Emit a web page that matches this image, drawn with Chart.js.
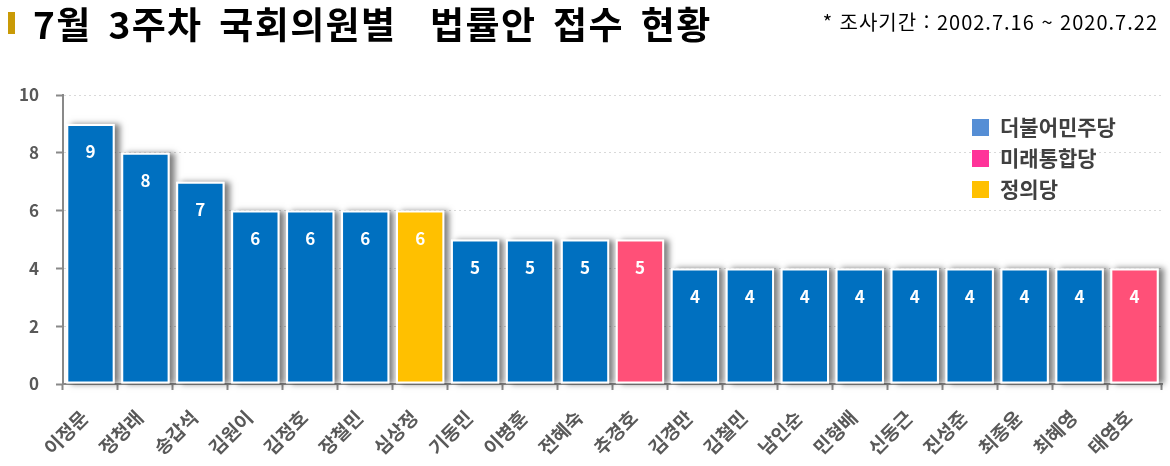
<!DOCTYPE html>
<html lang="ko">
<head>
<meta charset="UTF-8">
<title>7월 3주차 국회의원별 법률안 접수 현황</title>
<style>
    html, body { margin: 0; padding: 0; background: #fff; }
    body { width: 1170px; height: 466px; position: relative; overflow: hidden; font-family: "Noto Sans CJK KR", "Noto Sans", sans-serif; }
    .mark { position: absolute; left: 8px; top: 12px; width: 7px; height: 22px; background: #C99A06; }
    .title { position: absolute; left: 33px; top: -4px; font-size: 37px; font-weight: bold; color: #000; white-space: pre; letter-spacing: 1.4px; word-spacing: 5px; }
    .period { position: absolute; right: 12px; top: 7px; font-size: 20px; color: #000; white-space: pre; letter-spacing: 1px; }
    #chart { position: absolute; left: 0; top: 0; }
</style>
</head>
<body>
<canvas id="chart" width="1170" height="466"></canvas>
<div class="mark"></div>
<div class="title">7월 3주차 국회의원별  법률안 접수 현황</div>
<div class="period">* 조사기간 : 2002.7.16 ~ 2020.7.22</div>
<script src="https://cdn.jsdelivr.net/npm/chart.js"></script>
<script>
    const names = ['이정문', '정청래', '송갑석', '김원이', '김정호', '장철민', '심상정', '기동민', '이병훈', '전혜숙',
                   '추경호', '김경만', '김철민', '남인순', '민형배', '신동근', '진성준', '최종윤', '최혜영', '태영호'];
    const counts = [9, 8, 7, 6, 6, 6, 6, 5, 5, 5, 5, 4, 4, 4, 4, 4, 4, 4, 4, 4];
    const parties = ['민주', '민주', '민주', '민주', '민주', '민주', '정의', '민주', '민주', '민주',
                     '통합', '민주', '민주', '민주', '민주', '민주', '민주', '민주', '민주', '통합'];
    const yTicks = [0, 2, 4, 6, 8, 10];

    const barColors = { '민주': '#0070C0', '통합': '#FF5078', '정의': '#FFC000' };
    const legendNames = ['더불어민주당', '미래통합당', '정의당'];
    const legendColors = ['#558ED5', '#FF3399', '#FFC000'];

    const font = '"Noto Sans CJK KR", "Noto Sans", sans-serif';

    // shadow behind each bar, drawn from the bar elements
    const barShadow = {
        id: 'barShadow',
        beforeDatasetsDraw(chart) {
            const ctx = chart.ctx;
            chart.getDatasetMeta(0).data.forEach(bar => {
                ctx.save();
                ctx.shadowColor = 'rgba(0,0,0,0.5)';
                ctx.shadowBlur = 6;
                ctx.shadowOffsetX = 5;
                ctx.shadowOffsetY = 0;
                ctx.fillStyle = '#ffffff';
                ctx.fillRect(bar.x - bar.width / 2, bar.y, bar.width, bar.base - bar.y);
                ctx.restore();
            });
        },
        afterDatasetsDraw(chart) {
            const ctx = chart.ctx;
            ctx.save();
            ctx.fillStyle = '#ffffff';
            ctx.font = 'bold 17px ' + font;
            ctx.textAlign = 'center';
            ctx.textBaseline = 'middle';
            chart.getDatasetMeta(0).data.forEach((bar, i) => {
                ctx.fillText(String(counts[i]), bar.x, bar.y + 28);
            });
            ctx.restore();
        }
    };

    const partyLegend = {
        id: 'partyLegend',
        afterDraw(chart) {
            const ctx = chart.ctx;
            const area = chart.chartArea;
            ctx.save();
            ctx.font = 'bold 21px ' + font;
            ctx.textBaseline = 'middle';
            ctx.textAlign = 'left';
            legendNames.forEach((name, i) => {
                const cy = area.top + 32 + i * 31;
                ctx.fillStyle = legendColors[i];
                ctx.fillRect(area.right - 190, cy - 8, 17, 17);
                ctx.fillStyle = '#404040';
                ctx.fillText(name, area.right - 162, cy);
            });
            ctx.restore();
        }
    };

    new Chart(document.getElementById('chart'), {
        type: 'bar',
        data: {
            labels: names,
            datasets: [{
                data: counts,
                backgroundColor: parties.map(p => barColors[p]),
                borderColor: '#ffffff',
                borderWidth: 2,
                borderSkipped: false,
                barPercentage: 0.88,
                categoryPercentage: 1
            }]
        },
        options: {
            responsive: false,
            animation: false,
            layout: { padding: { top: 95, right: 8, left: 0, bottom: 0 } },
            plugins: {
                legend: { display: false },
                tooltip: { enabled: false }
            },
            scales: {
                x: {
                    afterFit(scale) { scale.height = 82; },
                    grid: { display: true, drawOnChartArea: false, offset: true, tickLength: 6, tickColor: '#898989', tickWidth: 2 },
                    border: { color: '#898989', width: 2 },
                    ticks: {
                        autoSkip: false,
                        maxRotation: 45,
                        minRotation: 45,
                        labelOffset: -6,
                        padding: 16,
                        color: '#595959',
                        font: { family: font, size: 19, weight: 'bold' }
                    }
                },
                y: {
                    min: 0,
                    max: 10,
                    afterFit(scale) { scale.width = 63; },
                    afterBuildTicks(scale) { scale.ticks = yTicks.map(v => ({ value: v })); },
                    grid: { color: '#D9D9D9', lineWidth: 1, tickLength: 7, tickColor: '#898989', tickWidth: 2 },
                    border: { color: '#898989', width: 2, dash: [2, 3] },
                    ticks: {
                        padding: 17,
                        color: '#595959',
                        font: { family: font, size: 17, weight: 'bold' }
                    }
                }
            }
        },
        plugins: [barShadow, partyLegend]
    });
</script>
</body>
</html>
